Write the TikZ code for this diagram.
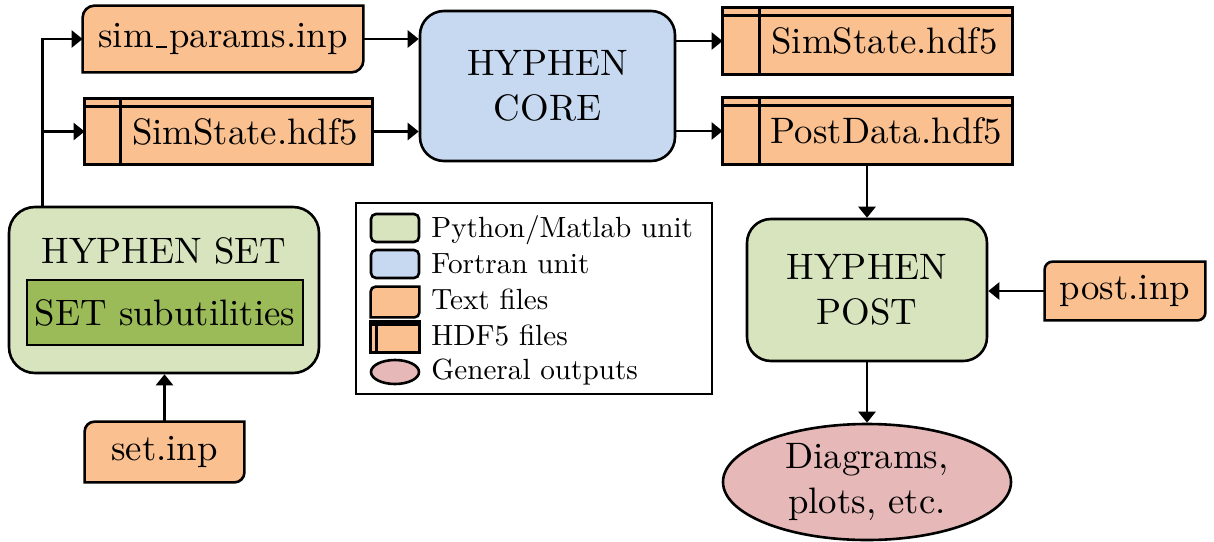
\documentclass[tikz,border=0pt]{standalone}
\usepackage{fontspec}
\setmainfont{lmroman10-regular}[Extension=.otf]
\usetikzlibrary{arrows.meta,calc,backgrounds,shapes.geometric}

\definecolor{fileorange}{HTML}{FAC090}
\definecolor{pygreen}{HTML}{D7E4BD}
\definecolor{subgreen}{HTML}{9BBB59}
\definecolor{fortblue}{HTML}{C6D9F1}
\definecolor{outpink}{HTML}{E6B9B8}

\tikzset{
  x=0.5pt, y=-0.5pt,
  every node/.style={inner sep=0pt, font=\fontsize{18.4}{22.5}\selectfont, align=center},
  frame/.style={draw=black, line width=1.3pt},
  pyunit/.style={frame, fill=pygreen, rounded corners=13pt},
  fortunit/.style={frame, fill=fortblue, rounded corners=12pt},
  subbox/.style={frame, fill=subgreen},
  output/.style={frame, fill=outpink, ellipse},
  fileshape/.style={frame, fill=fileorange},
  legtext/.style={anchor=base west, font=\fontsize{14.6}{17}\selectfont},
  arr/.style={line width=1.3pt, -{Triangle[length=5.5pt,width=8.5pt]}},
}

% short baseline underscore
\newcommand\lowbar{\kern.06em\rule{.3em}{0.7pt}\kern.06em}

% text file: rounded top-left and bottom-right corners
\newcommand\txtfile[2][5pt]{%
  \path[fileshape] (#2.south west) -- ($(#2.north west)+(0,-#1)$)
    arc[start angle=180,end angle=90,radius=#1] -- (#2.north east)
    -- ($(#2.south east)+(0,#1)$)
    arc[start angle=0,end angle=-90,radius=#1] -- cycle;}

% HDF5 file: box with a top band and a left strip
\newcommand\hdffile[3]{%
  \path[fileshape] (#1.south west) rectangle (#1.north east);
  \draw[frame] ($(#1.north west)+(0,-#3)$) -- ($(#1.north east)+(0,-#3)$);
  \draw[frame] ($(#1.north west)+(#2,0)$) -- ($(#1.south west)+(#2,0)$);}

\begin{document}
\begin{tikzpicture}
\useasboundingbox (0,0) rectangle (1214,541);

% ---- units ----
\node[pyunit, minimum width=155pt, minimum height=83pt] (set) at (164,290) {};
\node (settitle) at (164,251) {HYPHEN SET};
\node[subbox, minimum width=138pt, minimum height=32.5pt] (sub) at (165,312.5) {SET subutilities};

\node[fortunit, minimum width=127.5pt, minimum height=75pt] (core) at (547.5,86) {HYPHEN\\CORE};
\node[pyunit, minimum width=120pt, minimum height=71pt, rounded corners=12pt] (post) at (867,290) {HYPHEN\\POST};
\node[output, minimum width=144pt, minimum height=58pt] (diag) at (867,482) {Diagrams,\\plots, etc.};

% ---- files ----
\node[minimum width=140pt, minimum height=33pt] (simparams) at (223,39) {sim\lowbar params.inp};
\node[minimum width=79.5pt, minimum height=30pt] (setinp) at (164.5,452) {set.inp};
\node[minimum width=80pt, minimum height=29pt] (postinp) at (1125,291) {post.inp};
\node[minimum width=143.5pt, minimum height=32.5pt] (ssin) at (228.5,131.5) {\hspace{16.5pt}SimState.hdf5};
\node[minimum width=144.5pt, minimum height=33pt] (ssout) at (867.5,41) {\hspace{17pt}SimState.hdf5};
\node[minimum width=144.5pt, minimum height=33pt] (pdata) at (867.5,131) {\hspace{19pt}PostData.hdf5};

% ---- legend ----
\node[frame, minimum width=178pt, minimum height=95.5pt] (legend) at (534,298.5) {};
\node[pyunit, rounded corners=2.5pt, minimum width=24pt, minimum height=14pt] (lgpy) at (395,228) {};
\node[fortunit, rounded corners=2.5pt, minimum width=24pt, minimum height=14pt] (lgfort) at (395,264) {};
\node[minimum width=24pt, minimum height=15pt] (lgtxt) at (395,302) {};
\node[minimum width=24pt, minimum height=15pt] (lghdf) at (395,337) {};
\node[output, minimum width=24pt, minimum height=12pt] (lgout) at (395,372) {};
\node[legtext] (ltpy) at (431,237) {Python/Matlab unit};
\node[legtext] (ltfort) at (431,273) {Fortran unit};
\node[legtext] (lttxt) at (431,309) {Text files};
\node[legtext] (lthdf) at (431,345) {HDF5 files};
\node[legtext] (ltout) at (431,379) {General outputs};

\begin{scope}[on background layer]
  \txtfile[6pt]{simparams}
  \txtfile{setinp}
  \txtfile[4pt]{postinp}
  \txtfile[2.5pt]{lgtxt}
  \hdffile{ssin}{18pt}{4pt}
  \hdffile{ssout}{18.5pt}{4pt}
  \hdffile{pdata}{18.5pt}{4pt}
  \hdffile{lghdf}{3pt}{1.5pt}
\end{scope}

% ---- connectors ----
\coordinate (trunk) at ($(set.north west)+(17.5pt,0)$);
\draw[arr] (trunk) |- (simparams.west);
\draw[arr] (trunk) |- (ssin.west);
\draw[arr] (simparams.east) -- (simparams.east -| core.west);
\draw[arr] (ssin.east) -- (ssin.east -| core.west);
\draw[arr] (core.east |- ssout.west) -- (ssout.west);
\draw[arr] (core.east |- pdata.west) -- (pdata.west);
\draw[arr] (pdata.south -| post.north) -- (post.north);
\draw[arr] (postinp.west) -- (postinp.west -| post.east);
\draw[arr] (post.south) -- (post.south |- diag.north);
\draw[arr] (setinp.north) -- (setinp.north |- set.south);
\end{tikzpicture}
\end{document}
